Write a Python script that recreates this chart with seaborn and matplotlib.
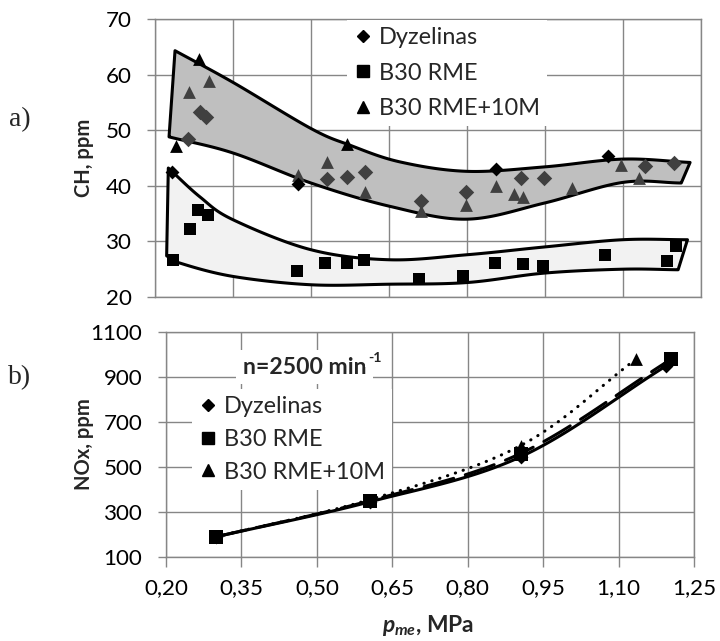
import numpy as np
import matplotlib
matplotlib.use("Agg")
import matplotlib.pyplot as plt
import seaborn as sns
from matplotlib.lines import Line2D
from matplotlib.ticker import FuncFormatter

sns.set_theme(style="white")
plt.rcParams["font.family"] = ["Lato", "DejaVu Sans"]
plt.rcParams["mathtext.fontset"] = "custom"
plt.rcParams["mathtext.it"] = "Lato:italic:bold"
plt.rcParams["mathtext.rm"] = "Lato:bold"
plt.rcParams["mathtext.bf"] = "Lato:bold"

# ---------------- CH emissions (panel a) ----------------
ch_dyz_x = [0.232, 0.475, 0.855, 1.072]
ch_dyz_y = [42.5, 40.3, 43.1, 45.4]
ch_dyz_rep_x = [0.263, 0.287, 0.299, 0.530, 0.569, 0.604, 0.712, 0.798, 0.904, 0.949, 1.142, 1.199]
ch_dyz_rep_y = [48.5, 53.3, 52.3, 41.2, 41.5, 42.5, 37.3, 38.8, 41.4, 41.4, 43.5, 44.1]
ch_b30_x = [0.234, 0.267, 0.283, 0.301, 0.473, 0.526, 0.570, 0.602, 0.708, 0.793,
            0.853, 0.908, 0.946, 1.065, 1.184, 1.202]
ch_b30_y = [26.7, 32.2, 35.7, 34.8, 24.6, 26.1, 26.1, 26.7, 23.3, 23.7,
            26.1, 25.9, 25.5, 27.6, 26.5, 29.1]
ch_b30m_x = [0.240, 0.285, 0.569]
ch_b30m_y = [47.2, 62.8, 47.6]
ch_b30m_rep_x = [0.265, 0.303, 0.475, 0.530, 0.604, 0.712, 0.798, 0.855, 0.891, 0.907, 1.002, 1.097, 1.131]
ch_b30m_rep_y = [56.8, 58.9, 41.9, 44.2, 38.9, 35.4, 36.6, 40.0, 38.5, 37.9, 39.6, 43.7, 41.4]

# envelope outlines of the two scatter clouds
upper_top_x = [0.2385, 0.35, 0.50, 0.575, 0.671, 0.80, 0.949, 1.099, 1.229]
upper_top_y = [64.3, 58.6, 50.3, 47.3, 44.3, 42.6, 43.4, 44.8, 44.2]
upper_bot_x = [0.227, 0.35, 0.50, 0.652, 0.80, 0.949, 1.099, 1.212]
upper_bot_y = [48.8, 45.9, 40.5, 36.3, 34.0, 36.9, 40.6, 40.5]
lower_top_x = [0.2256, 0.2865, 0.35, 0.50, 0.65, 0.80, 0.949, 1.099, 1.224]
lower_top_y = [43.2, 38.0, 33.9, 28.5, 26.7, 27.6, 29.0, 30.3, 30.3]
lower_bot_x = [0.2224, 0.248, 0.35, 0.50, 0.65, 0.80, 0.949, 1.099, 1.206]
lower_bot_y = [27.4, 26.1, 23.7, 22.2, 22.3, 22.6, 24.3, 25.0, 24.9]

# ---------------- NOx emissions (panel b) ----------------
nox_dyz_x = [0.300, 0.605, 0.905, 1.195]
nox_dyz_y = [190, 345, 545, 950]
nox_b30_x = [0.300, 0.605, 0.905, 1.205]
nox_b30_y = [190, 350, 560, 980]
nox_b30m_x = [0.300, 0.605, 0.905, 1.135]
nox_b30m_y = [190, 355, 595, 980]

x_ticks = [0.20, 0.35, 0.50, 0.65, 0.80, 0.95, 1.10, 1.25]
ch_ticks = [20, 30, 40, 50, 60, 70]
nox_ticks = [100, 300, 500, 700, 900, 1100]
series_names = ["Dyzelinas", "B30 RME", "B30 RME+10M"]

GRID = "#868686"
DARK = "#404040"
W, H = 720, 641

fig = plt.figure(figsize=(7.2, 6.41), dpi=100)
renderer = fig.canvas.get_renderer()


def fit_size(text, target_px, dim="w", **kw):
    """Font size (pt) at which `text` spans target_px pixels."""
    t = fig.text(0, 0, text, fontsize=10, **kw)
    bb = t.get_window_extent(renderer)
    t.remove()
    return 10 * target_px / (bb.width if dim == "w" else bb.height)


TICK_FS = fit_size("1100", 52)
LEG_FS = fit_size("Dyzelinas", 99)
TITLE_FS = fit_size("CH, ppm", 78, fontweight="bold")
NTXT_FS = fit_size("n=2500 min", 124, fontweight="bold")
XLAB_FS = fit_size("MPa", 47, fontweight="bold")


def smooth_curve(xs, ys, n=40):
    """Catmull-Rom curve through the given knots (smoothed line drawing)."""
    p = np.column_stack([xs, ys]).astype(float)
    p = np.vstack([2 * p[0] - p[1], p, 2 * p[-1] - p[-2]])
    parts = []
    t = np.linspace(0, 1, n, endpoint=False)[:, None]
    for i in range(1, len(p) - 2):
        p0, p1, p2, p3 = p[i - 1], p[i], p[i + 1], p[i + 2]
        seg = 0.5 * (2 * p1 + (-p0 + p2) * t
                     + (2 * p0 - 5 * p1 + 4 * p2 - p3) * t ** 2
                     + (-p0 + 3 * p1 - 3 * p2 + p3) * t ** 3)
        parts.append(seg)
    parts.append(p[-2][None, :])
    return np.vstack(parts)


def envelope(ax, tx, ty, bx, by, face):
    top = smooth_curve(tx, ty)
    bot = smooth_curve(bx, by)[::-1]
    poly = np.vstack([top, bot, top[:1]])
    ax.fill(poly[:, 0], poly[:, 1], facecolor=face, edgecolor="black",
            linewidth=2.2, joinstyle="round", zorder=1)


def style_axes(ax, yticks):
    ax.set_xlim(0.20, 1.25)
    ax.set_ylim(yticks[0], yticks[-1])
    ax.set_xticks(x_ticks)
    ax.set_yticks(yticks)
    ax.grid(True, color=GRID, linewidth=1.0)
    ax.set_axisbelow(True)
    for s in ax.spines.values():
        s.set_color(GRID)
        s.set_linewidth(1.0)
    ax.tick_params(axis="y", which="both", left=True, length=6, width=1.0,
                   color=GRID, labelsize=TICK_FS, pad=11, labelcolor="black")
    ax.set_xlabel("")
    ax.set_ylabel("")


ax1 = fig.add_axes([155 / W, 1 - 297 / H, 546 / W, 278 / H])
ax2 = fig.add_axes([166 / W, 1 - 557 / H, 528 / W, 225 / H])

# ---- panel a ----
style_axes(ax1, ch_ticks)
ax1.tick_params(axis="x", bottom=False, labelbottom=False)
envelope(ax1, upper_top_x, upper_top_y, upper_bot_x, upper_bot_y, "#bfbfbf")
envelope(ax1, lower_top_x, lower_top_y, lower_bot_x, lower_bot_y, "#f2f2f2")

sns.scatterplot(x=ch_dyz_rep_x, y=ch_dyz_rep_y, marker="D", s=62, color=DARK,
                linewidth=0, ax=ax1, zorder=3)
sns.scatterplot(x=ch_b30m_rep_x, y=ch_b30m_rep_y, marker="^", s=85, color=DARK,
                linewidth=0, ax=ax1, zorder=3)
sns.scatterplot(x=ch_b30_x, y=ch_b30_y, marker="s", s=85, color="black",
                linewidth=0, ax=ax1, zorder=4)
sns.scatterplot(x=ch_b30m_x, y=ch_b30m_y, marker="^", s=85, color="black",
                linewidth=0, ax=ax1, zorder=4)
sns.scatterplot(x=ch_dyz_x, y=ch_dyz_y, marker="D", s=50, color="black",
                linewidth=0, ax=ax1, zorder=4)
ax1.set_xlim(0.20, 1.25)
ax1.set_ylim(20, 70)

handles = [
    Line2D([], [], ls="", marker="D", color="black", ms=6.5),
    Line2D([], [], ls="", marker="s", color="black", ms=8.5),
    Line2D([], [], ls="", marker="^", color="black", ms=8.5),
]
leg_kw = dict(loc="upper left", bbox_transform=fig.transFigure, frameon=True,
              facecolor="white", edgecolor="none", framealpha=1, fontsize=LEG_FS,
              handlelength=0.75, handletextpad=0.3, borderaxespad=0, fancybox=False)
leg1 = ax1.legend(handles, series_names, bbox_to_anchor=(347 / W, 1 - 20 / H),
                  labelspacing=0.62, borderpad=0.3, **leg_kw)
leg1.set_zorder(5)

# ---- panel b ----
style_axes(ax2, nox_ticks)
ax2.tick_params(axis="x", bottom=True, length=7, width=1.0, color=GRID,
                labelsize=TICK_FS, pad=8, labelcolor="black")
ax2.xaxis.set_major_formatter(FuncFormatter(lambda v, _: f"{v:.2f}".replace(".", ",")))

curves = [
    (nox_dyz_x, nox_dyz_y, "-"),
    (nox_b30_x, nox_b30_y, (0, (10, 4))),
    (nox_b30m_x, nox_b30m_y, (0, (0.1, 2.6))),
]
for xs, ys, ls in curves:
    c = smooth_curve(xs, ys)
    sns.lineplot(x=c[:, 0], y=c[:, 1], sort=False, estimator=None, color="black",
                 linewidth=2.2, linestyle=ls, dash_capstyle="round", ax=ax2, zorder=2)
for xs, ys, mk, sz in [(nox_b30m_x, nox_b30m_y, "^", 85), (nox_dyz_x, nox_dyz_y, "D", 50),
                       (nox_b30_x, nox_b30_y, "s", 95)]:
    sns.scatterplot(x=xs, y=ys, marker=mk, s=sz, color="black", linewidth=0,
                    ax=ax2, zorder=3)
ax2.set_xlim(0.20, 1.25)
ax2.set_ylim(100, 1100)

leg2 = ax2.legend(handles, series_names, bbox_to_anchor=(192 / W, 1 - 389 / H),
                  labelspacing=0.5, borderpad=0.3, **leg_kw)
leg2.set_zorder(5)

ntxt = ax2.text(243 / W, 1 - 367 / H, "n=2500 min", transform=fig.transFigure,
                ha="left", va="center", fontsize=NTXT_FS, fontweight="bold", zorder=6,
                bbox=dict(facecolor="white", edgecolor="none", pad=5))
ax2.annotate("-1", xy=(1, 0.62), xycoords=ntxt, xytext=(1, 0), textcoords="offset points",
             ha="left", va="bottom", fontsize=NTXT_FS * 0.62, fontweight="bold", zorder=7,
             bbox=dict(facecolor="white", edgecolor="none", pad=2))

# ---- titles and panel tags ----
fig.text(84 / W, 1 - 158 / H, "CH, ppm", rotation=90, ha="center", va="center",
         fontsize=TITLE_FS, fontweight="bold")
fig.text(84 / W, 1 - 444 / H, "NOx, ppm", rotation=90, ha="center", va="center",
         fontsize=TITLE_FS, fontweight="bold")
fig.text(428 / W, 1 - 626 / H, r"$p_{me}$, MPa", ha="center", va="center",
         fontsize=XLAB_FS, fontweight="bold")
fig.text(20 / W, 1 - 120 / H, "a)", ha="center", va="center", fontsize=20,
         family="Liberation Serif")
fig.text(20 / W, 1 - 378 / H, "b)", ha="center", va="center", fontsize=20,
         family="Liberation Serif")

fig.savefig("out.png", dpi=100)
